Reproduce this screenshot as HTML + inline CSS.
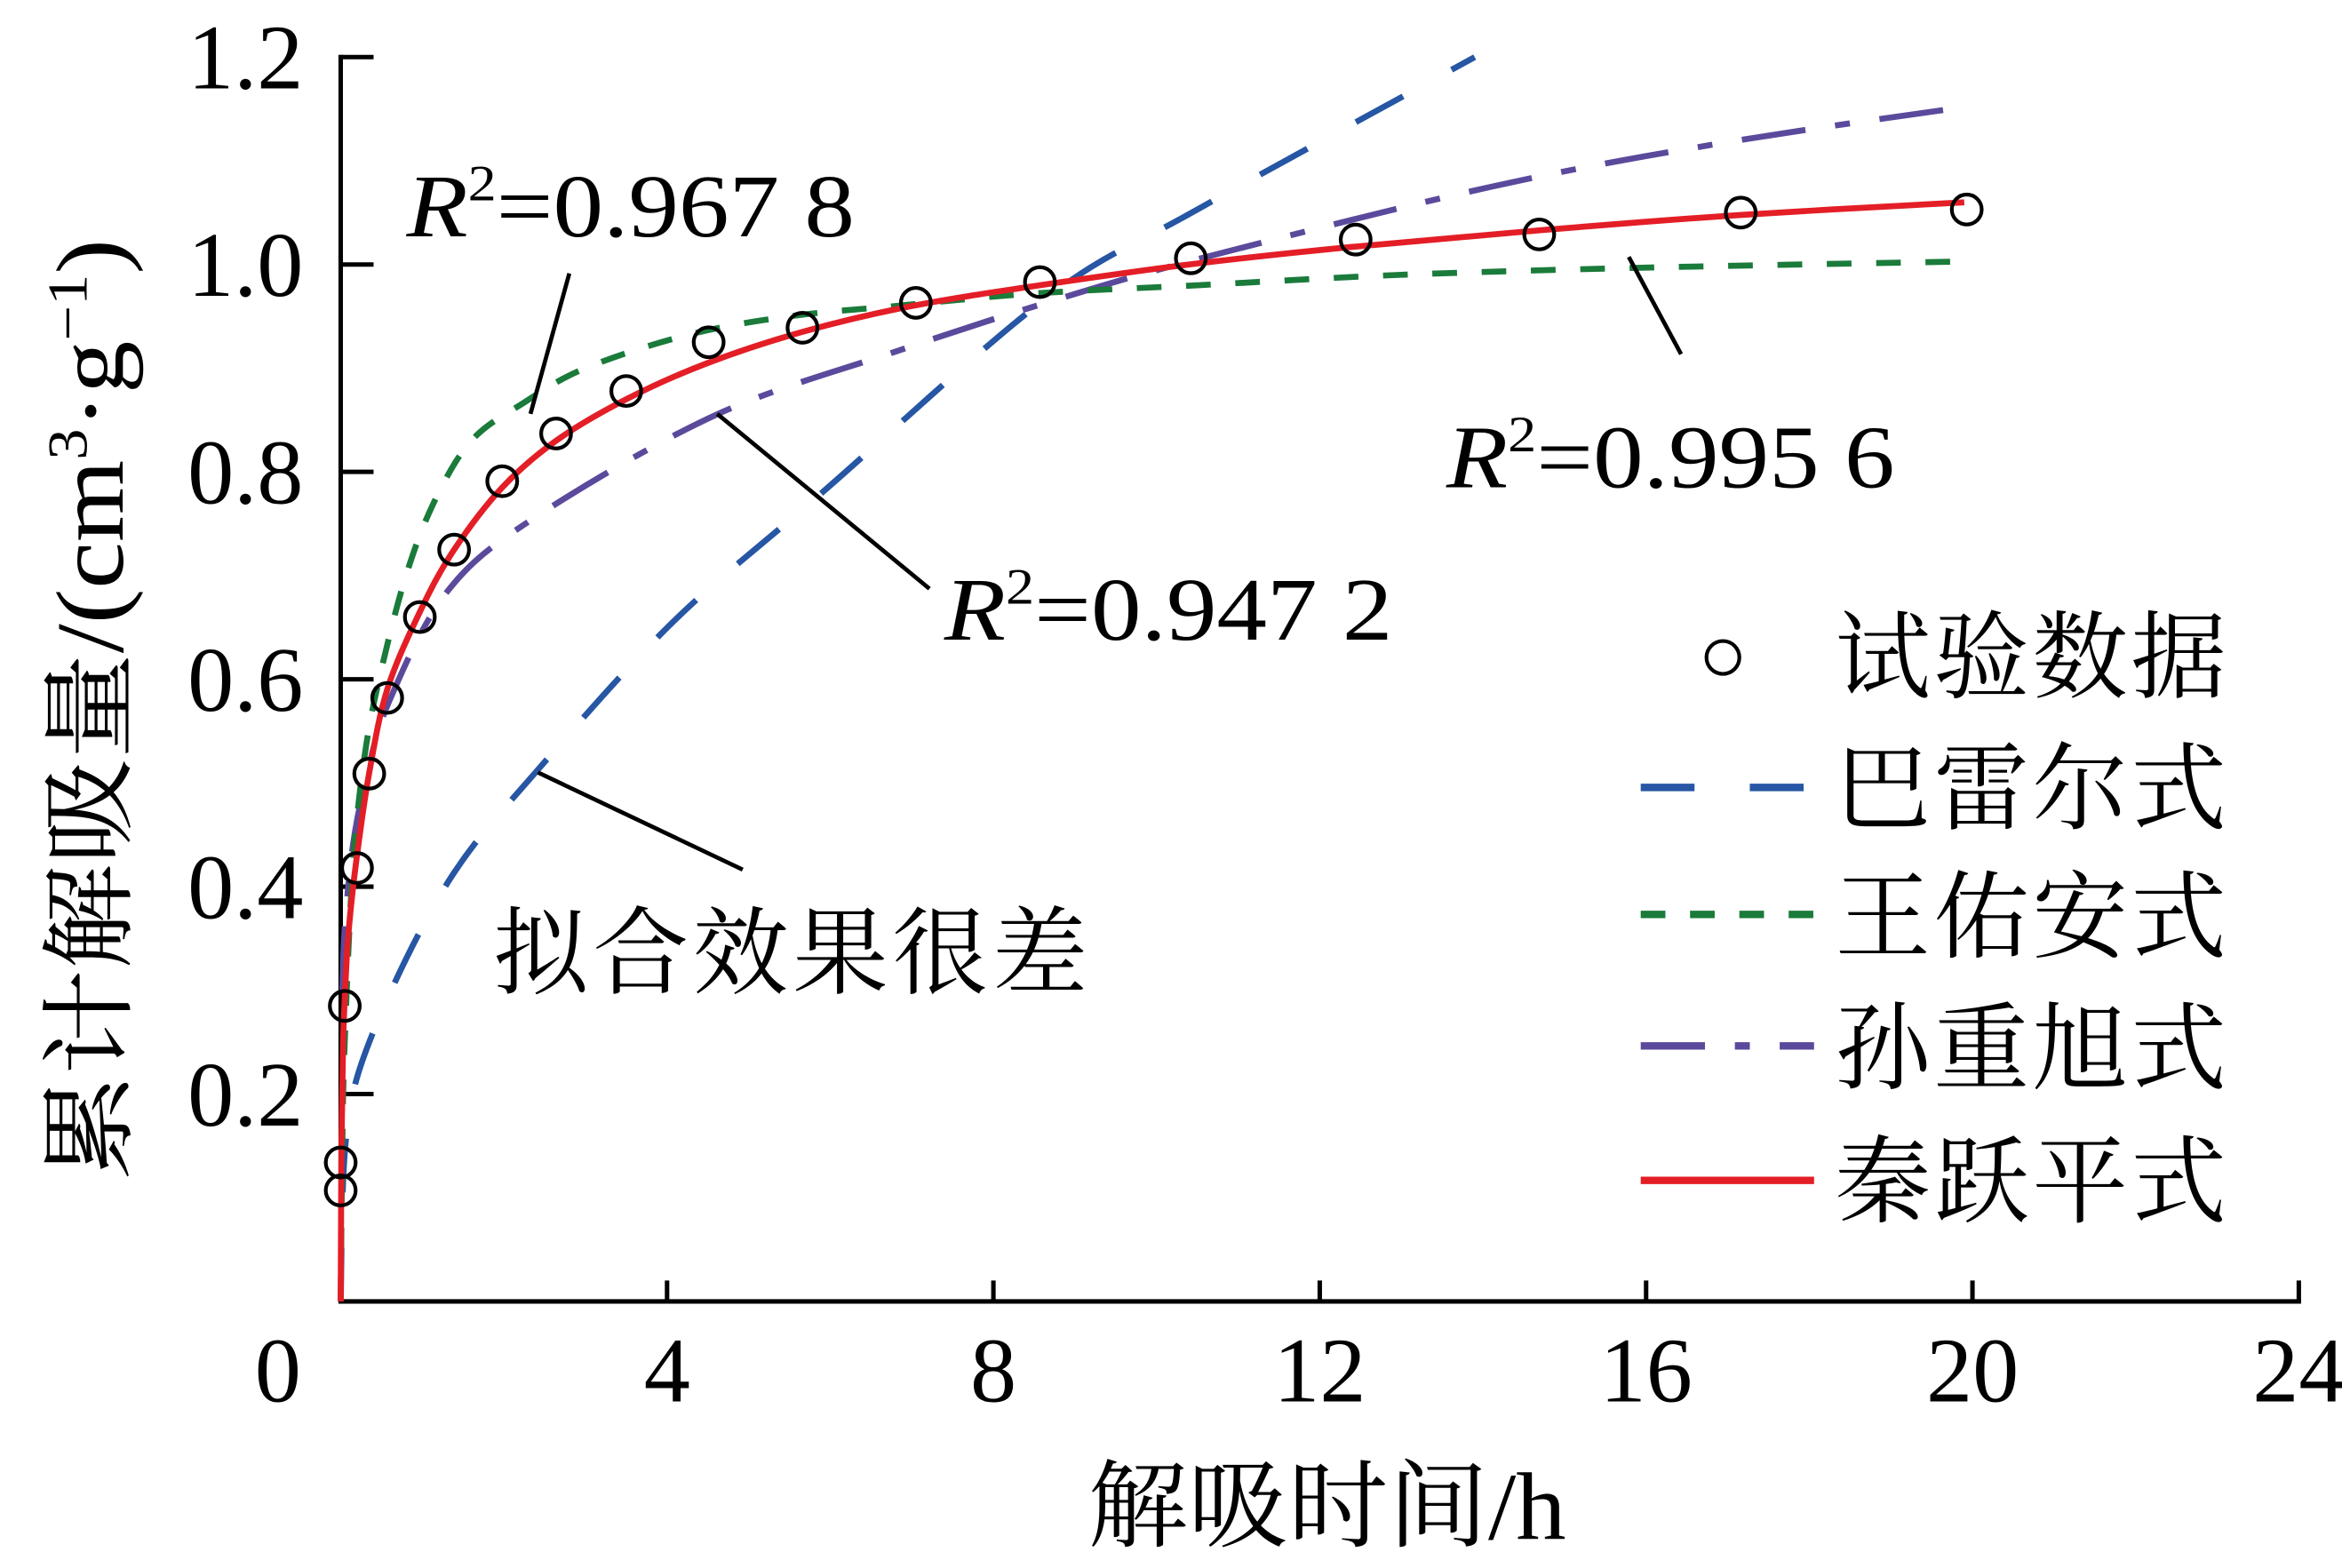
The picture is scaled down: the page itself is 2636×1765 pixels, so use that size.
<!DOCTYPE html>
<html><head><meta charset="utf-8"><style>
html,body{margin:0;padding:0;background:#fff;}
svg{display:block;}
text{font-family:"Liberation Serif","Noto Serif CJK SC",serif;fill:#000;}
</style></head><body>
<svg id="chart" width="2636" height="1765" viewBox="0 0 1567.3 1049.4" xmlns="http://www.w3.org/2000/svg">
<g id="axes"></g>
<g id="series"></g>
<g>
  <text x="272" y="158" font-size="60" textLength="300" lengthAdjust="spacingAndGlyphs"><tspan font-style="italic">R</tspan><tspan font-size="34" dy="-24">2</tspan><tspan dy="24">=0.967 8</tspan></text>
  <line x1="381" y1="183" x2="355" y2="277" stroke="#000" stroke-width="2.8"/>
  <text x="968" y="326" font-size="60" textLength="300" lengthAdjust="spacingAndGlyphs"><tspan font-style="italic">R</tspan><tspan font-size="34" dy="-24">2</tspan><tspan dy="24">=0.995 6</tspan></text>
  <line x1="1090" y1="172" x2="1125" y2="237" stroke="#000" stroke-width="2.8"/>
  <text x="632" y="428" font-size="60" textLength="300" lengthAdjust="spacingAndGlyphs"><tspan font-style="italic">R</tspan><tspan font-size="34" dy="-24">2</tspan><tspan dy="24">=0.947 2</tspan></text>
  <line x1="480" y1="277" x2="622" y2="394" stroke="#000" stroke-width="2.8"/>
  <text x="330" y="660" font-size="64" textLength="398">拟合效果很差</text>
  <line x1="360" y1="517" x2="497" y2="582" stroke="#000" stroke-width="2.8"/>
</g>
<g>
  <g>
    <circle cx="1153" cy="440" r="11" fill="none" stroke="#000" stroke-width="2.5"/>
    <text x="1228" y="462" font-size="64" textLength="262">试验数据</text>
  </g>
  <g>
    <line x1="1098" y1="527" x2="1212" y2="527" stroke="#2656a4" stroke-width="5" stroke-dasharray="36 37"/>
    <text x="1228" y="550" font-size="64" textLength="262">巴雷尔式</text>
  </g>
  <g>
    <line x1="1098" y1="612" x2="1214" y2="612" stroke="#1a7b3a" stroke-width="5" stroke-dasharray="16.5 16.5"/>
    <text x="1228" y="636" font-size="64" textLength="262">王佑安式</text>
  </g>
  <g>
    <line x1="1098" y1="700" x2="1214" y2="700" stroke="#5b4a9c" stroke-width="5" stroke-dasharray="43 20 10 20"/>
    <text x="1228" y="724" font-size="64" textLength="262">孙重旭式</text>
  </g>
  <g>
    <line x1="1098" y1="790" x2="1214" y2="790" stroke="#e41e26" stroke-width="5"/>
    <text x="1228" y="813" font-size="64" textLength="262">秦跃平式</text>
  </g>
</g>
<text x="728" y="1030" font-size="64" textLength="320" lengthAdjust="spacingAndGlyphs">解吸时间/h</text>
<text transform="translate(82,790) rotate(-90)" font-size="64" textLength="630" lengthAdjust="spacingAndGlyphs">累计解吸量/(cm<tspan font-size="38" dy="-24">3</tspan><tspan dy="24">·g</tspan><tspan font-size="38" dy="-24">−1</tspan><tspan dy="24">)</tspan></text>
</svg>
<script>
const xTicks = [0, 4, 8, 12, 16, 20, 24];
const yTicks = [0.2, 0.4, 0.6, 0.8, 1.0, 1.2];
const yTickLabels = ["0.2", "0.4", "0.6", "0.8", "1.0", "1.2"];
const dataX = [0.0, 0.0, 0.05, 0.2, 0.35, 0.57, 0.97, 1.39, 1.98, 2.64, 3.5, 4.51, 5.66, 7.05, 8.57, 10.42, 12.44, 14.69, 17.16, 19.93];
const dataY = [0.107, 0.134, 0.285, 0.418, 0.509, 0.582, 0.660, 0.725, 0.791, 0.837, 0.878, 0.925, 0.939, 0.963, 0.983, 1.006, 1.024, 1.029, 1.050, 1.053];
const qinX = [0, 0.01, 0.03, 0.06, 0.1, 0.2, 0.35, 0.57, 0.97, 1.39, 1.98, 2.64, 3.5, 4.5, 5.66, 7, 8.57, 10.4, 12.4, 14.7, 17.2, 19.9];
const qinY = [0, 0.15, 0.25, 0.31, 0.36, 0.43, 0.51, 0.59, 0.665, 0.725, 0.785, 0.83, 0.87, 0.905, 0.935, 0.96, 0.98, 1.0, 1.017, 1.033, 1.048, 1.06];
const wangX = [0, 0.02, 0.05, 0.15, 0.3, 0.5, 0.8, 1.14, 1.6, 2.23, 3, 4.25, 5.5, 6.8, 8.5, 10.5, 13, 16, 20];
const wangY = [0, 0.15, 0.25, 0.42, 0.53, 0.61, 0.7, 0.77, 0.83, 0.866, 0.9, 0.932, 0.95, 0.96, 0.972, 0.98, 0.99, 0.997, 1.003];
const sunX = [0.02, 0.05, 0.15, 0.3, 0.59, 1.32, 2.42, 4.6, 6.8, 8.6, 10.5, 14.1, 17, 20];
const sunY = [0.3, 0.36, 0.44, 0.5, 0.578, 0.686, 0.758, 0.855, 0.916, 0.962, 1.005, 1.075, 1.118, 1.153];
const barX = [0, 0.07, 0.4, 1.32, 2.42, 4.07, 5.9, 8.64, 10.5, 13.9];
const barY = [0, 0.16, 0.26, 0.405, 0.513, 0.655, 0.78, 0.967, 1.053, 1.2];

const X0 = 228, XU = 54.6, Y0 = 871, YU = 694;
function sx(v){ return X0 + v * XU; }
function sy(v){ return Y0 - v * YU; }
const NS = "http://www.w3.org/2000/svg";
const axes = document.getElementById('axes');
const series = document.getElementById('series');
function mk(tag, attrs, parent){ const e = document.createElementNS(NS, tag); for (const k in attrs) e.setAttribute(k, attrs[k]); parent.appendChild(e); return e; }

const xl = mk('line', {x1: sx(0) - 1.5, y1: sy(0), x2: sx(24) + 1.5, y2: sy(0), stroke: '#000', 'stroke-width': 3}, axes);


const yl = mk('line', {x1: sx(0), y1: sy(0), x2: sx(0), y2: sy(1.2) - 1.5, stroke: '#000', 'stroke-width': 3}, axes);


xTicks.forEach(function(t){
  if (t > 0) {
    const tk = mk('line', {x1: sx(t), y1: sy(0), x2: sx(t), y2: sy(0) - 14, stroke: '#000', 'stroke-width': 3}, axes);
    
    
  }
  const lb = mk('text', {x: sx(t) + (t === 0 ? -42 : 0), y: 938, 'font-size': 62, 'text-anchor': 'middle'}, axes);
  lb.textContent = String(t);
  
  
});
yTicks.forEach(function(t, i){
  const tk = mk('line', {x1: sx(0), y1: sy(t), x2: sx(0) + 22, y2: sy(t), stroke: '#000', 'stroke-width': 3}, axes);
  
  
  const lb = mk('text', {x: 203, y: sy(t) + 21, 'font-size': 62, 'text-anchor': 'end'}, axes);
  lb.textContent = yTickLabels[i];
  
  
});
function path(xs, ys){
  const p = xs.map(function(x, i){ return [sx(x), sy(ys[i])]; });
  let d = 'M' + p[0][0].toFixed(1) + ' ' + p[0][1].toFixed(1);
  for (let i = 0; i < p.length - 1; i++) {
    const p0 = p[Math.max(0, i - 1)], p1 = p[i], p2 = p[i + 1], p3 = p[Math.min(p.length - 1, i + 2)];
    const c1 = [p1[0] + (p2[0] - p0[0]) / 6, p1[1] + (p2[1] - p0[1]) / 6];
    const c2 = [p2[0] - (p3[0] - p1[0]) / 6, p2[1] - (p3[1] - p1[1]) / 6];
    d += ' C' + c1[0].toFixed(1) + ' ' + c1[1].toFixed(1) + ' ' + c2[0].toFixed(1) + ' ' + c2[1].toFixed(1) + ' ' + p2[0].toFixed(1) + ' ' + p2[1].toFixed(1);
  }
  return d;
}
const pb = mk('path', {d: path(barX, barY), fill: 'none', stroke: '#2656a4', 'stroke-width': 4, 'stroke-dasharray': '36 37'}, series);


const ps = mk('path', {d: path(sunX, sunY), fill: 'none', stroke: '#5b4a9c', 'stroke-width': 4, 'stroke-dasharray': '43 20 10 20'}, series);


const pw = mk('path', {d: path(wangX, wangY), fill: 'none', stroke: '#1a7b3a', 'stroke-width': 4, 'stroke-dasharray': '16.5 16.5'}, series);


const pq = mk('path', {d: path(qinX, qinY), fill: 'none', stroke: '#e41e26', 'stroke-width': 4, 'stroke-linejoin': 'round'}, series);


dataX.forEach(function(x, i){
  const c = mk('circle', {cx: sx(x), cy: sy(dataY[i]), r: 10, fill: 'none', stroke: '#000', 'stroke-width': 2.5}, series);
  
  
});
</script>
</body></html>
